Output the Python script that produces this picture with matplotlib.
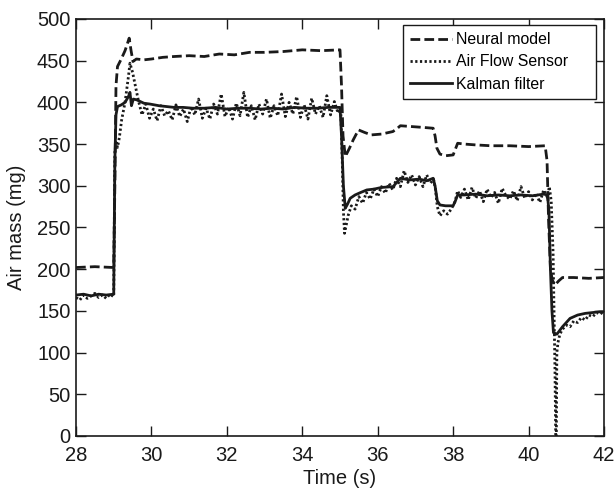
import matplotlib
matplotlib.use("Agg")
import matplotlib.pyplot as plt

# Neural model (dashed)
t_neural = [28.0, 28.5, 29.0, 29.03, 29.06, 29.1, 29.2, 29.3, 29.41, 29.46, 29.51, 29.6,
            29.8, 30.0, 30.3, 30.6, 31.0, 31.4, 31.8, 32.2, 32.6, 33.0, 33.5, 34.0,
            34.5, 35.0, 35.04, 35.08, 35.14, 35.25, 35.35, 35.49, 35.65, 35.83, 36.1,
            36.4, 36.5, 36.6, 36.9, 37.2, 37.47, 37.52, 37.57, 37.65, 37.8, 38.0, 38.06,
            38.12, 38.3, 38.6, 39.0, 39.5, 40.0, 40.44, 40.49, 40.53, 40.58, 40.63,
            40.7, 40.8, 40.9, 41.2, 41.6, 42.0]
v_neural = [202, 203, 202, 300, 420, 443, 452, 462, 477, 462, 449, 452,
            451, 452, 454, 455, 456, 455, 458, 457, 460, 460, 461, 463,
            462, 463, 420, 360, 335, 345, 355, 367, 364, 361, 362,
            365, 368, 372, 371, 370, 369, 360, 345, 338, 336, 337, 344,
            351, 350, 349, 348, 348, 347, 348, 330, 260, 200, 187,
            181, 186, 190, 190, 189, 190]

# Air Flow Sensor (dotted)
t_sensor = [28.0, 28.1, 28.2, 28.3, 28.4, 28.5, 28.6, 28.7, 28.8, 28.9, 29.0,
            29.03, 29.06, 29.1, 29.15, 29.21, 29.3, 29.39, 29.43, 29.5, 29.56, 29.65,
            29.75, 29.85, 29.95, 30.05, 30.15, 30.25, 30.35, 30.45, 30.55, 30.65,
            30.75, 30.85, 30.95, 31.05, 31.15, 31.25, 31.35, 31.45, 31.55, 31.65,
            31.75, 31.85, 31.95, 32.05, 32.15, 32.25, 32.35, 32.45, 32.55, 32.65,
            32.75, 32.85, 32.95, 33.05, 33.15, 33.25, 33.35, 33.45, 33.55, 33.65,
            33.75, 33.85, 33.95, 34.05, 34.15, 34.25, 34.35, 34.45, 34.55, 34.65,
            34.75, 34.85, 34.95, 35.02, 35.06, 35.09, 35.12, 35.16, 35.22, 35.3,
            35.4, 35.5, 35.6, 35.7, 35.8, 35.9, 36.0, 36.1, 36.2, 36.3, 36.4,
            36.5, 36.6, 36.7, 36.8, 36.9, 37.0, 37.1, 37.2, 37.3, 37.4, 37.48,
            37.53, 37.58, 37.65, 37.75, 37.85, 37.95, 38.05, 38.12, 38.2, 38.3,
            38.4, 38.5, 38.6, 38.7, 38.8, 38.9, 39.0, 39.1, 39.2, 39.3, 39.4,
            39.5, 39.6, 39.7, 39.8, 39.9, 40.0, 40.1, 40.2, 40.3, 40.4, 40.5,
            40.55, 40.6, 40.65, 40.7, 40.72, 40.735, 40.75, 40.78, 40.83, 40.9,
            41.0, 41.1, 41.2, 41.3, 41.4, 41.5, 41.6, 41.7, 41.8, 41.9, 42.0]
v_sensor = [166, 163, 169, 165, 168, 171, 166, 169, 165, 170, 167,
            340, 352, 346, 358, 379, 400, 431, 447, 436, 423, 403,
            385, 398, 381, 392, 378, 396, 384, 390, 379, 397, 383, 392, 377,
            395, 385, 404, 381, 393, 380, 398, 386, 410, 383, 394, 380, 399,
            384, 412, 382, 396, 379, 398, 386, 404, 381, 396, 384, 410, 383,
            400, 386, 407, 382, 397, 380, 405, 386, 396, 382, 408, 385, 401,
            387, 392, 330, 270, 243, 252, 265, 276,
            272, 287, 279, 292, 284, 296, 287, 299, 291, 303, 295,
            309, 299, 318, 304, 313, 301, 311, 299, 313, 303, 308,
            296, 275, 264, 270, 266, 272, 281, 294, 286, 296,
            283, 298, 285, 294, 281, 296, 286, 292, 279, 297, 288,
            284, 294, 282, 299, 285, 293, 283, 291, 280, 295, 286,
            299, 282, 220, 80, 0, -10, 100, 112, 122, 128,
            133, 131, 138, 136, 142, 139, 145, 143, 148, 146, 150]

# Kalman filter (solid)
t_kalman = [28.0, 28.2, 28.4, 28.6, 28.8, 29.0, 29.03, 29.06, 29.1, 29.2, 29.3,
            29.39, 29.43, 29.47, 29.52, 29.61, 29.8, 29.96, 30.2, 30.4, 30.6,
            30.84, 31.1, 31.4, 31.7, 32.0, 32.3, 32.6, 32.9, 33.2, 33.5, 33.8,
            34.1, 34.4, 34.7, 35.0, 35.04, 35.09, 35.14, 35.2, 35.27, 35.4, 35.55,
            35.71, 35.9, 36.1, 36.41, 36.5, 36.6, 36.85, 37.1, 37.3, 37.47, 37.52,
            37.58, 37.65, 37.8, 38.0, 38.06, 38.12, 38.3, 38.6, 38.9, 39.2, 39.5,
            39.8, 40.1, 40.4, 40.5, 40.54, 40.58, 40.62, 40.66, 40.75, 40.9, 41.1,
            41.3, 41.5, 41.7, 41.9, 42.0]
v_kalman = [169, 170, 168, 170, 169, 170, 330, 385, 395, 397, 400,
            407, 412, 396, 404, 403, 399, 398, 396, 395, 394,
            394, 393, 393, 394, 392, 393, 393, 392, 393, 392, 394,
            393, 393, 394, 394, 360, 300, 273, 278, 285, 289, 292,
            295, 296, 298, 299, 304, 309, 307, 308, 306, 309, 300,
            282, 277, 276, 276, 282, 289, 289, 290, 288, 289, 288,
            289, 288, 290, 289, 270, 200, 150, 124, 122, 131, 141,
            145, 147, 148, 149, 149]

x_ticks = [28, 30, 32, 34, 36, 38, 40, 42]
y_ticks = [0, 50, 100, 150, 200, 250, 300, 350, 400, 450, 500]

plt.rcParams['font.family'] = ['Liberation Sans', 'DejaVu Sans']

fig = plt.figure(figsize=(6.15, 4.88), dpi=100)
ax = fig.add_axes([0.1236, 0.1066, 0.8585, 0.8545])

ink = '#1a1a1a'
ax.plot(t_neural, v_neural, color=ink, lw=2.0, linestyle=(0, (3.5, 1.5)), label='Neural model')
ax.plot(t_sensor, v_sensor, color=ink, lw=2.0, linestyle=(0, (0.8, 0.9)), label='Air Flow Sensor')
ax.plot(t_kalman, v_kalman, color=ink, lw=2.0, linestyle='-', label='Kalman filter')

ax.set_xlim(28, 42)
ax.set_ylim(0, 500)
ax.set_xticks(x_ticks)
ax.set_yticks(y_ticks)
ax.tick_params(direction='in', length=7, width=1, top=True, right=True, labelsize=14.5,
               colors=ink)
ax.tick_params(axis='x', pad=7.5)
ax.tick_params(axis='y', pad=4)
for s in ax.spines.values():
    s.set_linewidth(1.2)
    s.set_color(ink)

ax.set_xlabel('Time (s)', fontsize=14.5, labelpad=2.5, color=ink)
ax.set_ylabel('Air mass (mg)', fontsize=14.5, labelpad=8, color=ink)

# legend box widened like the original (text left, blank space right)
leg = ax.legend(loc='upper left', mode='expand', bbox_to_anchor=(0.619, 0.81, 0.366, 0.1756),
                borderaxespad=0, fontsize=11.4, handlelength=2.66, handletextpad=0.22,
                labelspacing=0.46, borderpad=0.45, fancybox=False, framealpha=1,
                edgecolor=ink)
leg.get_frame().set_linewidth(1.0)

fig.savefig('out.png', dpi=100)
